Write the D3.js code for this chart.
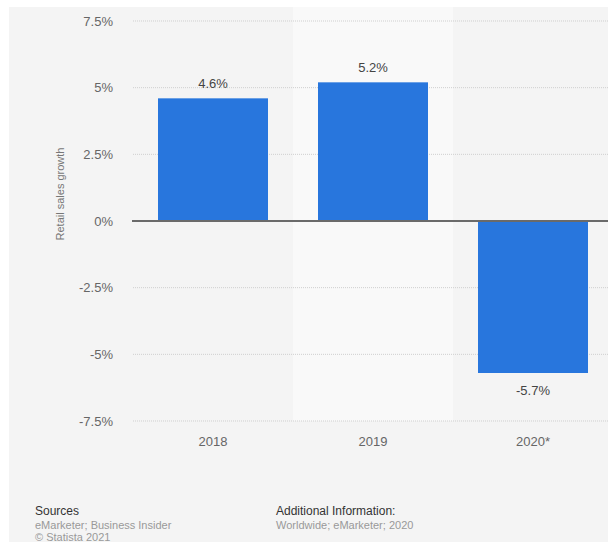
<!DOCTYPE html>
<html lang="en">
<head>
    <meta charset="utf-8"/>
    <script src="https://d3js.org/d3.v7.min.js"></script>
    <style>
        body { margin: 0; background: #fff; }
        text { font-family: "Liberation Sans", Arial, sans-serif; }
    </style>
</head>
<body>
<svg width="608" height="542"></svg>

<script type="text/javascript">

    // datos
    const years = ["2018", "2019", "2020*"];
    const growth = [4.6, 5.2, -5.7];
    const tickValues = [-7.5, -5, -2.5, 0, 2.5, 5, 7.5];
    const tickLabels = ["-7.5%", "-5%", "-2.5%", "0%", "2.5%", "5%", "7.5%"];
    const valueLabels = ["4.6%", "5.2%", "-5.7%"];

    const blue = "#2876dd";
    const svg = d3.select("svg");

    // fondo gris del panel
    svg.append("rect")
        .attr("x", 9).attr("y", 7)
        .attr("width", 599).attr("height", 535)
        .attr("fill", "#f4f4f4");

    // escalas
    let x = d3.scaleBand().domain(years).range([133, 613])
        .paddingInner(0.3125).paddingOuter(0.15625);
    let y = d3.scaleLinear().domain([-7.5, 7.5]).range([421, 21]);

    // banda mas clara para 2019
    svg.append("rect")
        .attr("x", x("2019") - x.step() * x.paddingInner() / 2)
        .attr("y", 7)
        .attr("width", x.step())
        .attr("height", y(-7.5) - 7)
        .attr("fill", "#f9f9f9");

    // grilla punteada
    svg.append("g")
        .selectAll("line")
        .data(tickValues.filter(d => d !== 0))
        .enter().append("line")
        .attr("x1", 133).attr("x2", 608)
        .attr("y1", d => y(d)).attr("y2", d => y(d))
        .attr("stroke", "#cfcfcf")
        .attr("stroke-dasharray", "1,1");

    // eje y (solo etiquetas)
    let yAxis = d3.axisLeft(y)
        .tickValues(tickValues)
        .tickFormat((d, i) => tickLabels[i])
        .tickSize(0)
        .tickPadding(0);

    svg.append("g")
        .attr("transform", "translate(113,0)")
        .call(yAxis)
        .call(g => g.select(".domain").remove())
        .selectAll("text")
        .style("font-size", "13px")
        .style("font-family", "Liberation Sans, Arial, sans-serif")
        .attr("fill", "#666");

    // barras
    svg.append("g")
        .selectAll("rect")
        .data(growth)
        .enter().append("rect")
        .attr("x", (d, i) => x(years[i]))
        .attr("y", d => y(Math.max(0, d)))
        .attr("width", x.bandwidth())
        .attr("height", d => Math.abs(y(d) - y(0)))
        .attr("fill", blue);

    // linea del cero
    svg.append("line")
        .attr("x1", 132).attr("x2", 608)
        .attr("y1", y(0)).attr("y2", y(0))
        .attr("stroke", "#6a6a6a")
        .attr("stroke-width", 2);

    // etiquetas de valor
    svg.append("g")
        .selectAll("text")
        .data(growth)
        .enter().append("text")
        .attr("x", (d, i) => x(years[i]) + x.bandwidth() / 2)
        .attr("y", d => d >= 0 ? y(d) - 10 : y(d) + 22)
        .attr("text-anchor", "middle")
        .style("font-size", "13px")
        .attr("fill", "#444")
        .text((d, i) => valueLabels[i]);

    // eje x
    let xAxis = d3.axisBottom(x).tickSize(0).tickPadding(0);
    svg.append("g")
        .attr("transform", "translate(0," + 437 + ")")
        .call(xAxis)
        .call(g => g.select(".domain").remove())
        .selectAll("text")
        .style("font-size", "13px")
        .style("font-family", "Liberation Sans, Arial, sans-serif")
        .attr("fill", "#666");

    // titulo eje y
    svg.append("text")
        .attr("transform", "translate(64,194) rotate(-90)")
        .attr("text-anchor", "middle")
        .style("font-size", "11px")
        .attr("fill", "#777")
        .text("Retail sales growth");

    // pie
    const foot = svg.append("g").style("font-size", "11px");
    foot.append("text").attr("x", 35).attr("y", 515).attr("fill", "#333").style("font-size", "12px").text("Sources");
    foot.append("text").attr("x", 35).attr("y", 529).attr("fill", "#999").text("eMarketer; Business Insider");
    foot.append("text").attr("x", 35).attr("y", 541).attr("fill", "#999").text("© Statista 2021");
    foot.append("text").attr("x", 276).attr("y", 515).attr("fill", "#333").style("font-size", "12px").text("Additional Information:");
    foot.append("text").attr("x", 276).attr("y", 529).attr("fill", "#999").text("Worldwide; eMarketer; 2020");

</script>
</body>
</html>
